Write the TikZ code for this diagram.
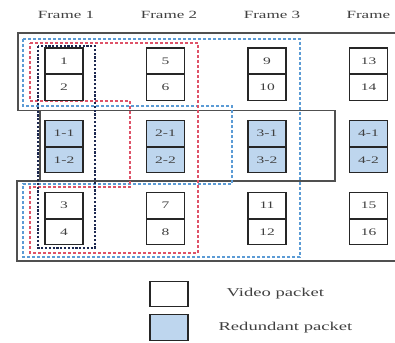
\documentclass[tikz,border=0pt]{standalone}
\usepackage{fontspec}
\setmainfont{Liberation Serif}[FakeStretch=1.55]
\definecolor{grpblue}{RGB}{91,155,213}
\definecolor{grpred}{RGB}{222,82,104}
\definecolor{grpnavy}{RGB}{28,40,80}
\definecolor{redfill}{RGB}{190,214,238}
\definecolor{lanegray}{RGB}{80,80,80}
\begin{document}
\begin{tikzpicture}[x=1pt,y=-1pt,
  pkt/.style={draw=black!85,line width=1.1pt,minimum width=38pt,minimum height=25.5pt,
    inner sep=0pt,anchor=north,font=\fontsize{10}{12}\selectfont,text=black!75},
  vidbox/.style={pkt,fill=white},
  redbox/.style={pkt,fill=redfill},
  lane/.style={draw=lanegray,line width=1.2pt},
  grp/.style={line width=1.2pt,dash pattern=on 3pt off 2pt},
  framelabel/.style={font=\fontsize{11}{13}\selectfont,text=black!75},
  legendtext/.style={font=\fontsize{12}{14}\selectfont,text=black!75,anchor=west}]
\useasboundingbox (0,0) rectangle (395,342);

% frame headers
\node[framelabel] (f1) at (66,15) {Frame 1};
\node[framelabel] (f2) at (169,15) {Frame 2};
\node[framelabel] (f3) at (272,15) {Frame 3};
\node[framelabel,anchor=west] (f4) at (343,15) {Frame};

% solid lanes, one per packet row
\draw[lane] (395,33) -- (18,33) -- (18,110.5) -- (335,110.5) -- (335,181)
  -- (17,181) -- (17,261) -- (395,261);
\draw[lane] (40,110.5) -- (40,181);

% protection groups
\draw[grp,grpblue] (23,39) -- (300,39) -- (300,257) -- (23,257) -- (23,184)
  -- (232,184) -- (232,106) -- (23,106) -- cycle;
\draw[grp,grpred] (30,43) -- (198,43) -- (198,253) -- (30,253) -- (30,187)
  -- (130,187) -- (130,101) -- (30,101) -- cycle;
\draw[grp,grpnavy,dash pattern=on 2.2pt off 1.6pt] (38,46) rectangle (95,248);

% frame 1
\node[vidbox] (p1) at (64,47.5) {1};
\node[vidbox] (p2) at (p1.south) {2};
\node[redbox] (r11) at (64,120) {1-1};
\node[redbox] (r12) at (r11.south) {1-2};
\node[vidbox] (p3) at (64,192) {3};
\node[vidbox] (p4) at (p3.south) {4};
% frame 2
\node[vidbox] (p5) at (165.5,47.5) {5};
\node[vidbox] (p6) at (p5.south) {6};
\node[redbox] (r21) at (165.5,120) {2-1};
\node[redbox] (r22) at (r21.south) {2-2};
\node[vidbox] (p7) at (165.5,192) {7};
\node[vidbox] (p8) at (p7.south) {8};
% frame 3
\node[vidbox] (p9) at (267,47.5) {9};
\node[vidbox] (p10) at (p9.south) {10};
\node[redbox] (r31) at (267,120) {3-1};
\node[redbox] (r32) at (r31.south) {3-2};
\node[vidbox] (p11) at (267,192) {11};
\node[vidbox] (p12) at (p11.south) {12};
% frame 4
\node[vidbox] (p13) at (368.5,47.5) {13};
\node[vidbox] (p14) at (p13.south) {14};
\node[redbox] (r41) at (368.5,120) {4-1};
\node[redbox] (r42) at (r41.south) {4-2};
\node[vidbox] (p15) at (368.5,192) {15};
\node[vidbox] (p16) at (p15.south) {16};

% legend
\node[vidbox,minimum height=25pt] (lgv) at (169,281) {};
\node[redbox,minimum height=26pt] (lgr) at (169,314) {};
\node[legendtext] (lgvt) at (223,293.5) {Video packet};
\node[legendtext] (lgrt) at (215,327.5) {Redundant packet};
\end{tikzpicture}
\end{document}
